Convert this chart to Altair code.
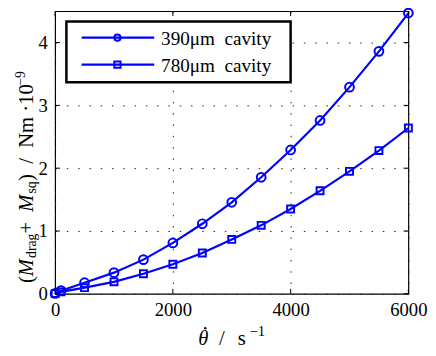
import altair as alt
import pandas as pd

# ---- data ----
theta_dot = [0, 100, 500, 1000, 1500, 2000, 2500, 3000, 3500, 4000, 4500, 5000, 5500, 6000]
m_390 = [0.005, 0.05, 0.176, 0.337, 0.544, 0.81, 1.115, 1.457, 1.855, 2.29, 2.76, 3.29, 3.86, 4.47]
m_780 = [0.003, 0.03, 0.098, 0.19, 0.32, 0.47, 0.65, 0.866, 1.09, 1.35, 1.64, 1.95, 2.28, 2.64]
series = ["390\u03bcm cavity", "780\u03bcm cavity"]
x_ticks = [0, 2000, 4000, 6000]
y_ticks = [0, 1, 2, 3, 4]

BLUE = "#0000ff"
FONT = "Liberation Serif"
NB = "\u00a0"  # non-collapsing space
W, H = 360, 288
OX, OY = 56, 8  # page position of plot origin

df = pd.DataFrame({
    "x": theta_dot + theta_dot,
    "y": m_390 + m_780,
    "s": [series[0]] * len(theta_dot) + [series[1]] * len(theta_dot),
})

xs = alt.Scale(domain=[0, 6000], nice=False)
ys = alt.Scale(domain=[0, 4.5], nice=False)

base = alt.Chart(df)
lines = base.mark_line(color=BLUE, strokeWidth=2.2).encode(
    x=alt.X("x:Q", scale=xs, title=None, axis=alt.Axis(values=x_ticks, labelPadding=7, labelFlush=False)),
    y=alt.Y("y:Q", scale=ys, title=None, axis=alt.Axis(values=y_ticks, labelPadding=8)),
    detail="s:N",
)
points = base.mark_point(color=BLUE, strokeWidth=2, filled=False, opacity=1).encode(
    x=alt.X("x:Q", scale=xs, title=None),
    y=alt.Y("y:Q", scale=ys, title=None),
    shape=alt.Shape("s:N", scale=alt.Scale(domain=series, range=["circle", "square"]), legend=None),
    size=alt.Size("s:N", scale=alt.Scale(domain=series, range=[80, 50]), legend=None),
)

xt = alt.Chart(pd.DataFrame({"x": x_ticks}))
yt = alt.Chart(pd.DataFrame({"y": y_ticks}))
tick_style = dict(color="black", strokeWidth=1)
ticks = [
    xt.mark_rule(**tick_style).encode(x=alt.X("x:Q", scale=xs, title=None), y=alt.value(H - 5), y2=alt.value(H)),
    xt.mark_rule(**tick_style).encode(x=alt.X("x:Q", scale=xs, title=None), y=alt.value(0), y2=alt.value(5)),
    yt.mark_rule(**tick_style).encode(y=alt.Y("y:Q", scale=ys, title=None), x=alt.value(0), x2=alt.value(5)),
    yt.mark_rule(**tick_style).encode(y=alt.Y("y:Q", scale=ys, title=None), x=alt.value(W - 5), x2=alt.value(W)),
]

one = alt.Chart(pd.DataFrame({"a": [0]}))


def txt(s, px, py, size=21, italic=False, angle=0):
    kw = dict(text=s, font=FONT, fontSize=size, align="left",
              baseline="alphabetic", color="black")
    if italic:
        kw["fontStyle"] = "italic"
    if angle:
        kw["angle"] = angle
    return one.mark_text(**kw).encode(x=alt.value(px - OX), y=alt.value(py - OY))


# legend box
legend = [
    one.mark_rect(fill="white", stroke="black", strokeWidth=2.5).encode(
        x=alt.value(67.5 - OX), x2=alt.value(296 - OX), y=alt.value(18.5 - OY), y2=alt.value(80.5 - OY)),
]
for i, shape in enumerate(["circle", "square"]):
    ly = [35, 62.5][i]
    legend.append(one.mark_rule(color=BLUE, strokeWidth=2.2).encode(
        x=alt.value(83 - OX), x2=alt.value(157 - OX), y=alt.value(ly - OY)))
    legend.append(one.mark_point(color=BLUE, strokeWidth=2, filled=False, opacity=1,
                                 shape=shape, size=40).encode(
        x=alt.value(119.5 - OX), y=alt.value(ly - OY)))
    legend.append(txt(series[i].replace(" ", NB + NB), 164, ly + 7, size=19.5))

# y title pieces (rotated, reading upward)
R = 270
ytitle = [
    txt("(", 33, 285, angle=R),
    txt("M", 33, 278, italic=True, angle=R),
    txt("drag", 37, 259.5, size=14, angle=R),
    txt(NB + "+" + NB, 33, 234.6, angle=R),
    txt("M", 33, 212.3, italic=True, angle=R),
    txt("sq", 37, 193.8, size=14, angle=R),
    txt(")" + NB * 2 + "/" + NB * 2 + "Nm" + NB + "\u00b710", 33, 181, angle=R),
    txt("\u22129", 25, 84, size=14, angle=R),
]
# x title pieces
xtitle = [
    txt("\u03b8", 202, 348, size=21, italic=True),
    one.mark_point(filled=True, color="black", size=6, opacity=1).encode(
        x=alt.value(209 - OX), y=alt.value(331 - OY)),
    txt("/", 223, 348),
    txt("s", 242, 348),
    txt("\u22121", 254, 339, size=15),
]

chart = alt.layer(lines, points, *ticks, *legend, *ytitle, *xtitle).properties(
    width=W, height=H,
    autosize=alt.AutoSizeParams(type="none"),
    padding={"left": OX - 8, "top": OY - 8, "right": 20, "bottom": 52},
).configure_view(
    stroke="black", strokeWidth=1.2
).configure_axis(
    grid=True, ticks=False, domain=False, labelFont=FONT, labelFontSize=19,
    labelColor="black", gridDash=[1.5, 10], gridColor="#222", gridWidth=1,
    gridOpacity=1, format="d",
)

chart.save("out.html", embed_options={"renderer": "svg", "actions": False})
